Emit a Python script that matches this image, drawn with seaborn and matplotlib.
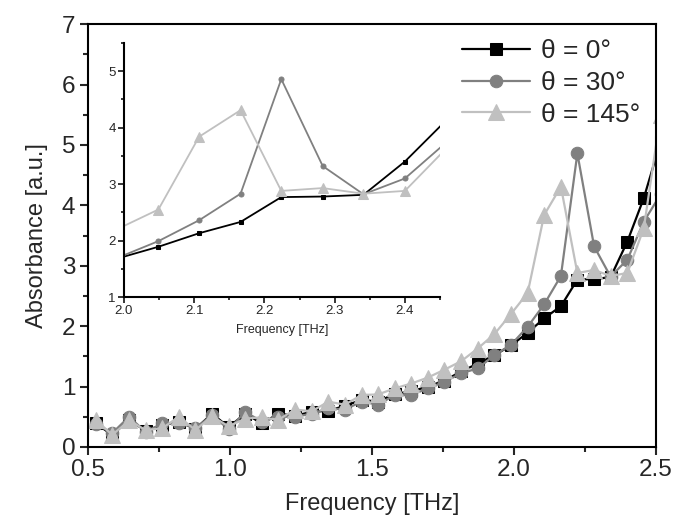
import matplotlib
matplotlib.use("Agg")
import matplotlib.pyplot as plt
from matplotlib.ticker import MultipleLocator
import seaborn as sns

# ---- data ----
freq = [0.527, 0.586, 0.645, 0.703, 0.762, 0.820, 0.879, 0.937, 0.996, 1.054,
        1.113, 1.171, 1.230, 1.288, 1.347, 1.405, 1.464, 1.522, 1.581, 1.639,
        1.698, 1.756, 1.815, 1.873, 1.932, 1.990, 2.049, 2.107, 2.166, 2.224,
        2.283, 2.341, 2.400, 2.458, 2.517]
abs_0 = [0.39, 0.20, 0.45, 0.27, 0.36, 0.42, 0.30, 0.55, 0.33, 0.55,
         0.39, 0.55, 0.52, 0.58, 0.60, 0.68, 0.78, 0.75, 0.88, 0.92,
         1.00, 1.10, 1.25, 1.38, 1.52, 1.68, 1.89, 2.13, 2.33, 2.77,
         2.78, 2.81, 3.40, 4.12, 5.05]
abs_30 = [0.38, 0.23, 0.50, 0.25, 0.39, 0.40, 0.31, 0.53, 0.29, 0.58,
          0.42, 0.50, 0.50, 0.55, 0.64, 0.62, 0.75, 0.70, 0.86, 0.86,
          0.97, 1.08, 1.22, 1.30, 1.52, 1.69, 1.99, 2.36, 2.83, 4.86,
          3.32, 2.82, 3.10, 3.73, 4.18]
abs_145 = [0.45, 0.20, 0.44, 0.28, 0.31, 0.50, 0.28, 0.51, 0.34, 0.47,
           0.49, 0.45, 0.62, 0.59, 0.75, 0.70, 0.86, 0.87, 0.97, 1.05,
           1.15, 1.28, 1.42, 1.63, 1.87, 2.20, 2.55, 3.84, 4.31, 2.88,
           2.93, 2.83, 2.88, 3.62, 5.50]
labels = ["θ = 0°", "θ = 30°", "θ = 145°"]
colors = ["#000000", "#808080", "#c0c0c0"]

sns.set_style("ticks")
plt.rcParams["font.family"] = ["Liberation Sans", "DejaVu Sans"]

fig = plt.figure(figsize=(6.76, 5.24), dpi=100)
ax = fig.add_axes([0.130, 0.147, 0.840, 0.807])

series = [abs_0, abs_30, abs_145]
main_style = [dict(marker="s", markersize=8),
              dict(marker="o", markersize=9),
              dict(marker="^", markersize=11)]
for ys, lab, col, st in zip(series, labels, colors, main_style):
    sns.lineplot(x=freq, y=ys, ax=ax, color=col, label=lab, linewidth=1.6,
                 markeredgecolor=col, markerfacecolor=col, estimator=None,
                 sort=False, **st)

ax.set_xlim(0.5, 2.5)
ax.set_ylim(0, 7)
ax.xaxis.set_major_locator(MultipleLocator(0.5))
ax.xaxis.set_minor_locator(MultipleLocator(0.25))
ax.yaxis.set_major_locator(MultipleLocator(1))
ax.yaxis.set_minor_locator(MultipleLocator(0.5))
ax.tick_params(which="both", direction="out", width=1.5, top=False, right=False)
ax.tick_params(which="major", length=6, labelsize=17.5, pad=3)
ax.tick_params(which="minor", length=3.5)
for sp in ax.spines.values():
    sp.set_linewidth(1.5)
    sp.set_color("black")
ax.set_xlabel("Frequency [THz]", fontsize=17, labelpad=8)
ax.set_ylabel("Absorbance [a.u.]", fontsize=17, labelpad=10)

leg = ax.legend(loc="upper left", bbox_to_anchor=(0.64, 0.99), frameon=False,
                fontsize=19, handlelength=2.6, handletextpad=0.4,
                labelspacing=0.3, borderaxespad=0.0)

# ---- inset ----
ins = fig.add_axes([0.1834, 0.4332, 0.4675, 0.4847])
ins_style = [dict(marker="s", markersize=3.2),
             dict(marker="o", markersize=3.6),
             dict(marker="^", markersize=7.5)]
for ys, col, st in zip(series, colors, ins_style):
    sns.lineplot(x=freq, y=ys, ax=ins, color=col, linewidth=1.3,
                 markeredgecolor=col, markerfacecolor=col, estimator=None,
                 sort=False, legend=False, **st)
ins.set_xlim(2.0, 2.45)
ins.set_ylim(1, 5.5)
ins.xaxis.set_major_locator(MultipleLocator(0.1))
ins.xaxis.set_minor_locator(MultipleLocator(0.05))
ins.yaxis.set_major_locator(MultipleLocator(1))
ins.yaxis.set_minor_locator(MultipleLocator(0.5))
ins.tick_params(which="both", direction="out", width=1.3)
ins.tick_params(which="major", length=4, labelsize=9.5, pad=2)
ins.tick_params(which="minor", length=2.5)
ins.spines["top"].set_visible(False)
ins.spines["right"].set_visible(False)
for s in ("left", "bottom"):
    ins.spines[s].set_linewidth(1.5)
    ins.spines[s].set_color("black")
ins.set_facecolor("none")
ins.set_xlabel("Frequency [THz]", fontsize=9, labelpad=5)
ins.set_ylabel("")

fig.savefig("out.png", dpi=100)
